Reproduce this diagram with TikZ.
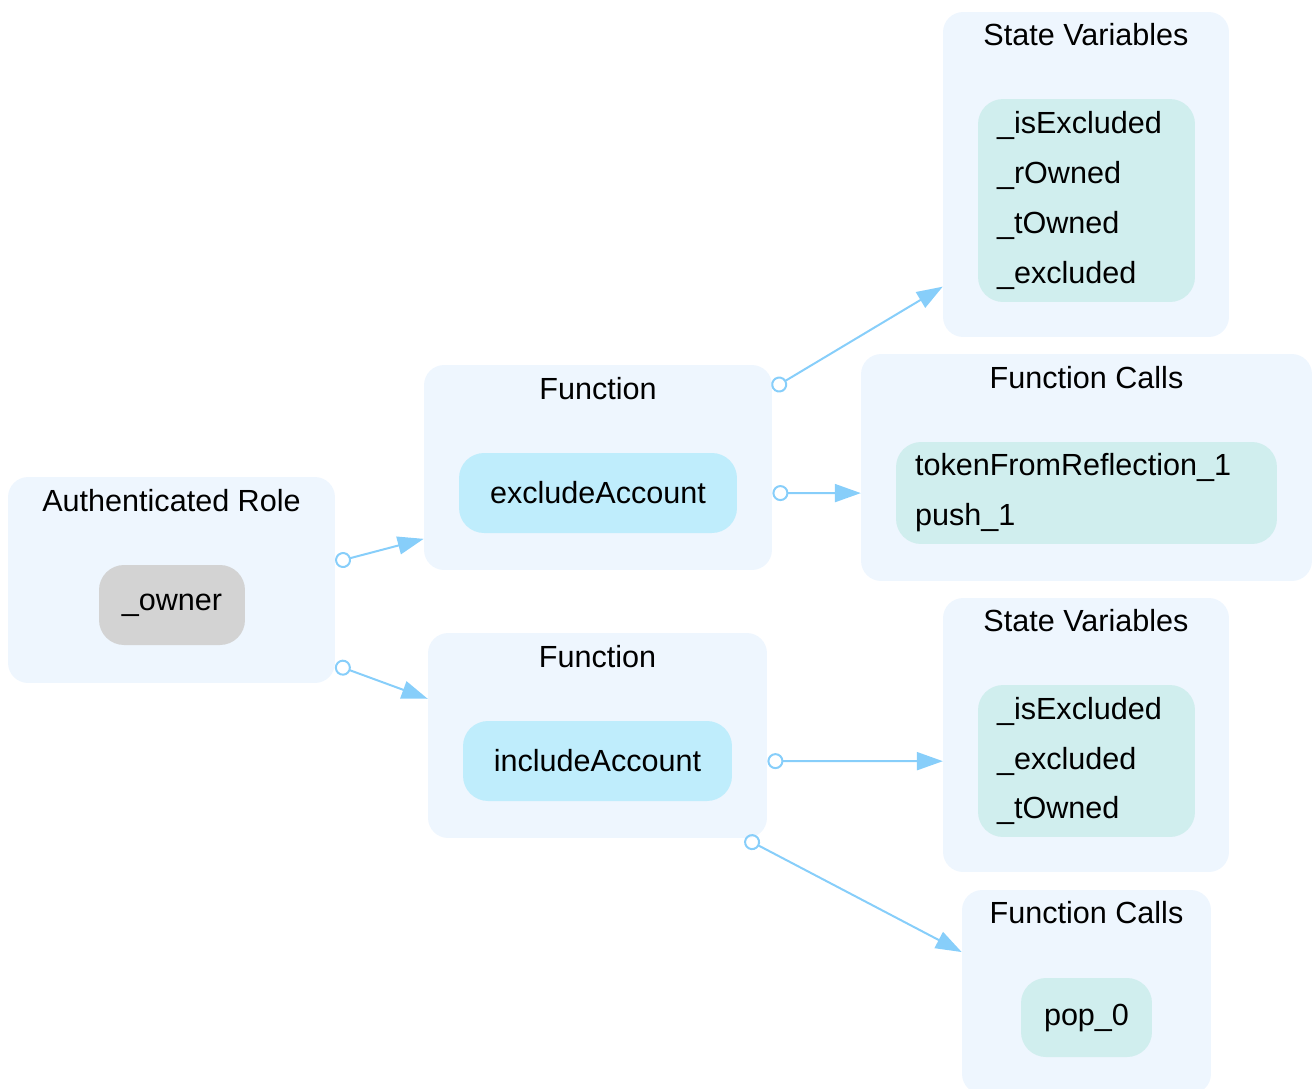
\documentclass[tikz,border=0pt]{standalone}
\usepackage{fontspec}
\setmainfont{Liberation Sans}
\usepackage{tikz}
\usetikzlibrary{arrows.meta,calc}
\usepackage{xcolor}
\definecolor{grpfill}{HTML}{EEF6FE}
\definecolor{fnfill}{HTML}{BFEDFC}
\definecolor{varfill}{HTML}{D0EEEE}
\definecolor{rolefill}{HTML}{D3D3D3}
\definecolor{edgecol}{HTML}{87CEFA}
\newcommand{\gvfont}{\fontsize{17.4}{28.4}\selectfont}
\tikzset{
  grpbox/.style={fill=grpfill, rounded corners=0.4cm, inner sep=0pt},
  grptitle/.style={font=\gvfont, inner sep=0pt},
  fnnode/.style={fill=fnfill, rounded corners=0.5cm, font=\gvfont, minimum height=1.6cm},
  rolenode/.style={fill=rolefill, rounded corners=0.5cm, font=\gvfont, minimum height=1.6cm},
  varnode/.style={fill=varfill, rounded corners=0.5cm, font=\gvfont, align=left, inner xsep=0.38cm},
  calledge/.style={draw=edgecol, line width=0.04cm,
    {Circle[open, length=0.32cm, width=0.32cm]}-{Triangle[length=0.52cm, width=0.36cm]}},
}

\begin{document}
\begin{tikzpicture}[x=0.02cm, y=-0.02cm]
  \useasboundingbox (0,0) rectangle (1316,1089);

  \node[grpbox, minimum width=6.54cm, minimum height=4.12cm] (auth) at (171.5,580) {};
  \node[grptitle] (authT) at ($(auth.north)+(0,24)$) {Authenticated Role};
  \node[rolenode, minimum width=2.92cm] (owner) at (172,605) {\_owner};

  \node[grpbox, minimum width=6.96cm, minimum height=4.10cm] (fn1) at (598,467.5) {};
  \node[grptitle] (fn1T) at ($(fn1.north)+(0,24)$) {Function};
  \node[fnnode, minimum width=5.56cm] (exclude) at (598,493) {excludeAccount};

  \node[grpbox, minimum width=6.78cm, minimum height=4.10cm] (fn2) at (597.5,735.5) {};
  \node[grptitle] (fn2T) at ($(fn2.north)+(0,24)$) {Function};
  \node[fnnode, minimum width=5.38cm] (include) at (597.5,761) {includeAccount};

  \node[grpbox, minimum width=5.72cm, minimum height=6.50cm] (sv1) at (1086,174.5) {};
  \node[grptitle] (sv1T) at ($(sv1.north)+(0,23)$) {State Variables};
  \node[varnode, text width=3.58cm, minimum height=4.06cm] (svlist1) at (1086.5,200.5)
    {\_isExcluded\\\_rOwned\\\_tOwned\\\_excluded};

  \node[grpbox, minimum width=9.02cm, minimum height=4.54cm] (fc1) at (1086.5,467.5) {};
  \node[grptitle] (fc1T) at ($(fc1.north)+(0,24)$) {Function Calls};
  \node[varnode, text width=6.86cm, minimum height=2.04cm] (fclist1) at (1086.5,493)
    {tokenFromReflection\_1\\push\_1};

  \node[grpbox, minimum width=5.72cm, minimum height=5.48cm] (sv2) at (1086,735) {};
  \node[grptitle] (sv2T) at ($(sv2.north)+(0,23)$) {State Variables};
  \node[varnode, text width=3.58cm, minimum height=3.04cm] (svlist2) at (1086.5,761)
    {\_isExcluded\\\_excluded\\\_tOwned};

  \node[grpbox, minimum width=4.98cm, minimum height=4.08cm] (fc2) at (1086.5,992) {};
  \node[grptitle] (fc2T) at ($(fc2.north)+(0,23)$) {Function Calls};
  \node[varnode, align=center, inner xsep=0pt, minimum width=2.62cm, minimum height=1.58cm] (pop) at (1086.5,1017.5) {pop\_0};

  \coordinate (e1s) at (intersection of owner.center--exclude.center and auth.north east--auth.south east);
  \coordinate (e1e) at (intersection of owner.center--exclude.center and fn1.north west--fn1.south west);
  \coordinate (e2s) at (intersection of owner.center--include.center and auth.north east--auth.south east);
  \coordinate (e2e) at (intersection of owner.center--include.center and fn2.north west--fn2.south west);
  \coordinate (e3s) at (intersection of exclude.center--svlist1.center and fn1.north east--fn1.south east);
  \coordinate (e3e) at (intersection of exclude.center--svlist1.center and sv1.north west--sv1.south west);
  \coordinate (e4s) at (intersection of exclude.center--fclist1.center and fn1.north east--fn1.south east);
  \coordinate (e4e) at (intersection of exclude.center--fclist1.center and fc1.north west--fc1.south west);
  \coordinate (e5s) at (intersection of include.center--svlist2.center and fn2.north east--fn2.south east);
  \coordinate (e5e) at (intersection of include.center--svlist2.center and sv2.north west--sv2.south west);
  \coordinate (e6s) at (intersection of include.center--pop.center and fn2.south west--fn2.south east);
  \coordinate (e6e) at (intersection of include.center--pop.center and fc2.north west--fc2.south west);

  \draw[calledge] (e1s) -- (e1e);
  \draw[calledge] (e2s) -- (e2e);
  \draw[calledge] (e3s) -- (e3e);
  \draw[calledge] (e4s) -- (e4e);
  \draw[calledge] (e5s) -- (e5e);
  \draw[calledge] (e6s) -- (e6e);
\end{tikzpicture}
\end{document}
